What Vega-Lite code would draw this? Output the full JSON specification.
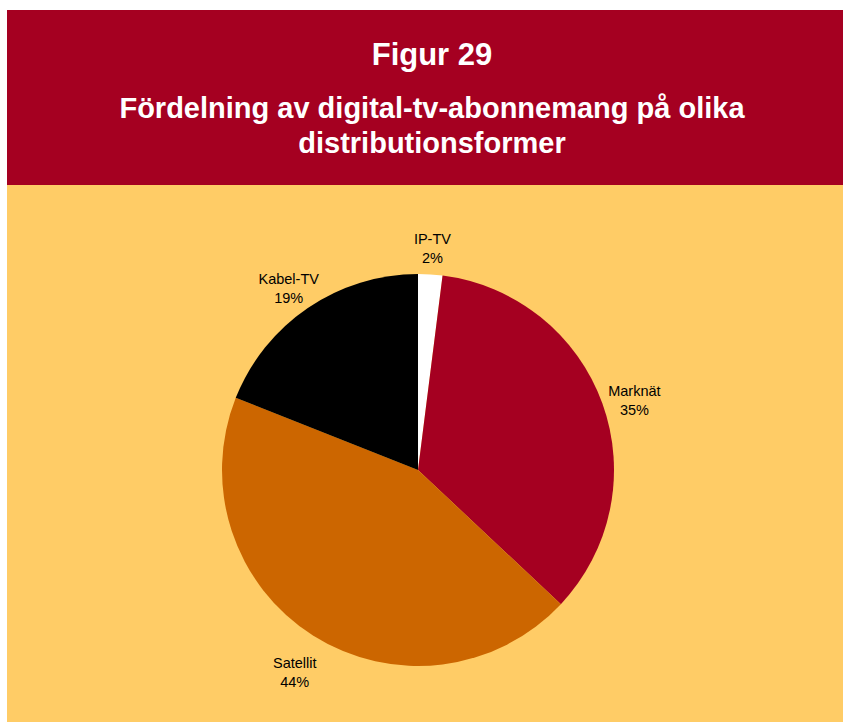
{
  "$schema": "https://vega.github.io/schema/vega-lite/v6.json",
  "background": "white",
  "padding": {"left": 7, "top": 10, "right": 0, "bottom": 0},
  "spacing": 0,
  "config": {"view": {"stroke": null}, "font": "Liberation Sans", "concat": {"spacing": 0}},
  "vconcat": [
    {
      "width": 836,
      "height": 175,
      "view": {"fill": "#A50021", "stroke": null},
      "layer": [
        {
          "data": {"values": [{"text": "Figur 29"}]},
          "mark": {"type": "text", "font": "Liberation Sans", "fontWeight": "bold", "fontSize": 31, "color": "white", "align": "center", "baseline": "alphabetic"},
          "encoding": {"text": {"field": "text"}, "x": {"value": 425}, "y": {"value": 55}}
        },
        {
          "data": {"values": [{"text": "Fördelning av digital-tv-abonnemang på olika\ndistributionsformer"}]},
          "mark": {"type": "text", "font": "Liberation Sans", "fontWeight": "bold", "fontSize": 29, "color": "white", "align": "center", "baseline": "alphabetic", "lineBreak": "\n", "lineHeight": 35},
          "encoding": {"text": {"field": "text"}, "x": {"value": 425}, "y": {"value": 108}}
        }
      ]
    },
    {
      "width": 836,
      "height": 537,
      "view": {"fill": "#FFCC66", "stroke": null},
      "data": {
        "values": [
          {"form": "IP-TV", "share": 2, "order": 1, "label": "IP-TV\n2%"},
          {"form": "Marknät", "share": 35, "order": 2, "label": "Marknät\n35%"},
          {"form": "Satellit", "share": 44, "order": 3, "label": "Satellit\n44%"},
          {"form": "Kabel-TV", "share": 19, "order": 4, "label": "Kabel-TV\n19%"}
        ]
      },
      "encoding": {
        "theta": {"field": "share", "type": "quantitative", "stack": true},
        "order": {"field": "order", "type": "quantitative"}
      },
      "layer": [
        {
          "mark": {"type": "arc", "outerRadius": 196, "x": 411, "y": 285},
          "encoding": {
            "color": {
              "field": "form",
              "type": "nominal",
              "scale": {"domain": ["IP-TV", "Marknät", "Satellit", "Kabel-TV"], "range": ["#FFFFFF", "#A50021", "#CC6600", "#000000"]},
              "legend": null
            }
          }
        },
        {
          "mark": {"type": "text", "radius": 230, "x": 411, "y": 285, "font": "Liberation Sans", "fontSize": 14.5, "color": "black", "align": "center", "baseline": "middle", "lineBreak": "\n", "lineHeight": 19},
          "encoding": {"text": {"field": "label"}}
        }
      ]
    }
  ]
}
